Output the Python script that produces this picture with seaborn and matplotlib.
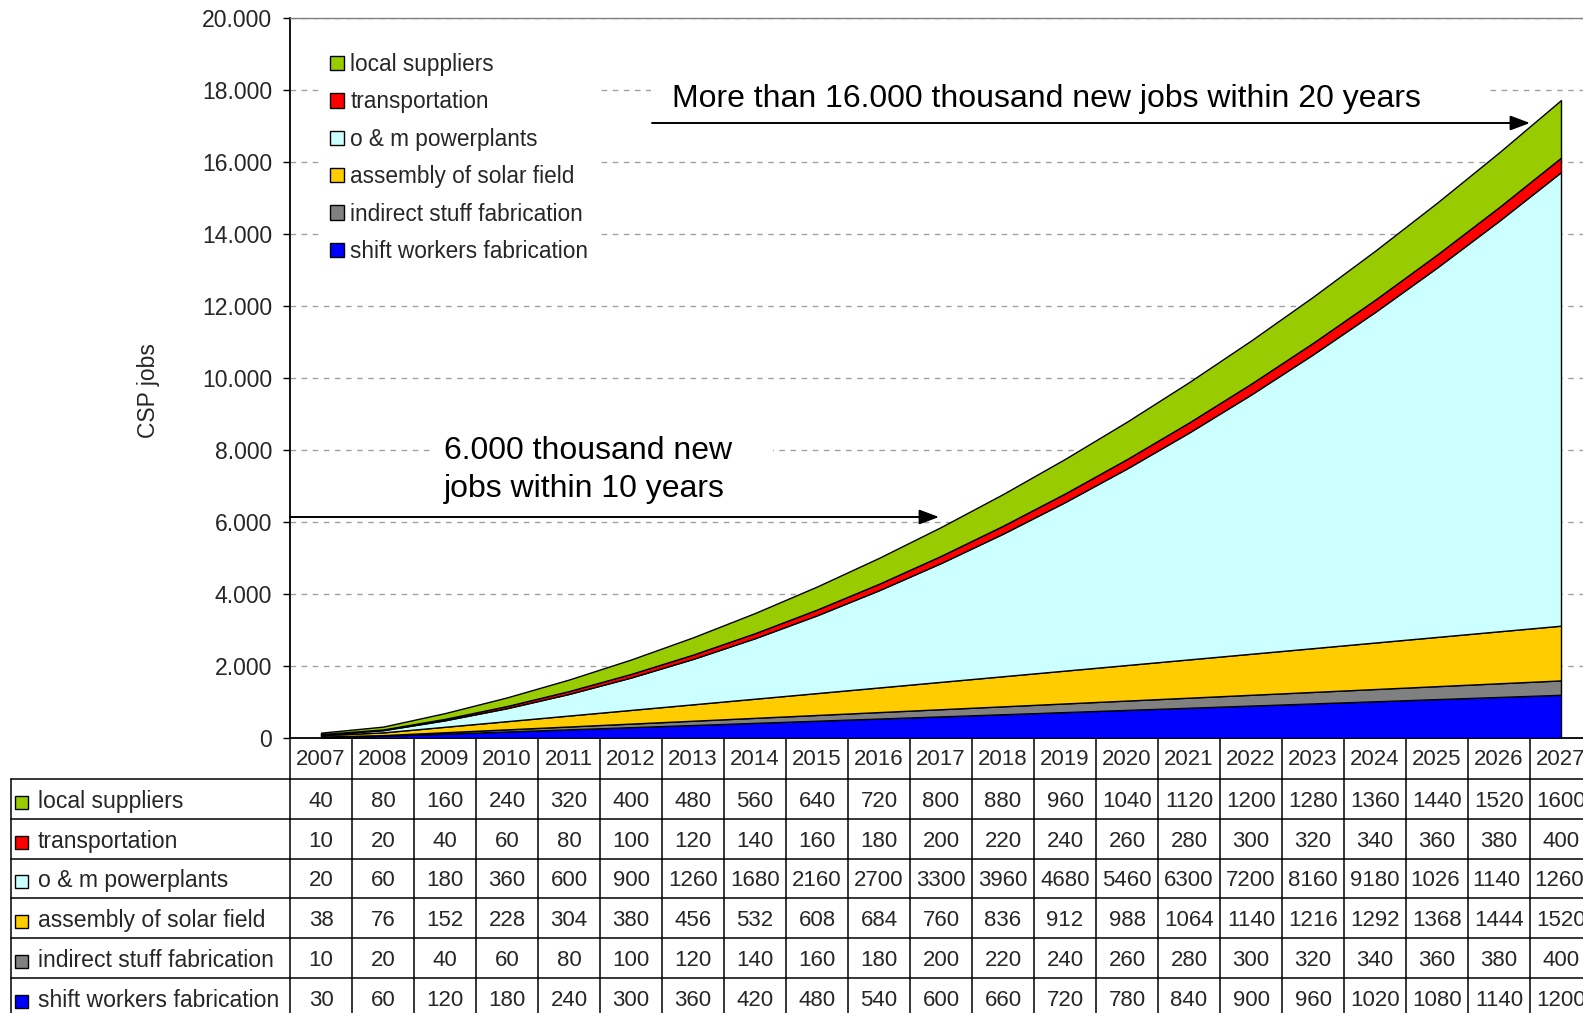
import numpy as np
import matplotlib
matplotlib.use("Agg")
import matplotlib.pyplot as plt
import seaborn as sns
from matplotlib.patches import Rectangle, Patch

# ---- data -------------------------------------------------------------
years = [2007, 2008, 2009, 2010, 2011, 2012, 2013, 2014, 2015, 2016, 2017,
         2018, 2019, 2020, 2021, 2022, 2023, 2024, 2025, 2026, 2027]

shift_workers = [30, 60, 120, 180, 240, 300, 360, 420, 480, 540, 600,
                 660, 720, 780, 840, 900, 960, 1020, 1080, 1140, 1200]
indirect_stuff = [10, 20, 40, 60, 80, 100, 120, 140, 160, 180, 200,
                  220, 240, 260, 280, 300, 320, 340, 360, 380, 400]
assembly_solar = [38, 76, 152, 228, 304, 380, 456, 532, 608, 684, 760,
                  836, 912, 988, 1064, 1140, 1216, 1292, 1368, 1444, 1520]
om_powerplants = [20, 60, 180, 360, 600, 900, 1260, 1680, 2160, 2700, 3300,
                  3960, 4680, 5460, 6300, 7200, 8160, 9180, 10260, 11400, 12600]
transportation = [10, 20, 40, 60, 80, 100, 120, 140, 160, 180, 200,
                  220, 240, 260, 280, 300, 320, 340, 360, 380, 400]
local_suppliers = [40, 80, 160, 240, 320, 400, 480, 560, 640, 720, 800,
                   880, 960, 1040, 1120, 1200, 1280, 1360, 1440, 1520, 1600]

series_names = ["shift workers fabrication", "indirect stuff fabrication",
                "assembly of solar field", "o & m powerplants",
                "transportation", "local suppliers"]
series_values = [shift_workers, indirect_stuff, assembly_solar,
                 om_powerplants, transportation, local_suppliers]
series_colors = ["#0000FF", "#808080", "#FFCC00", "#CCFFFF", "#FF0000", "#99CC00"]

y_ticks = list(range(0, 20001, 2000))

# ---- style ------------------------------------------------------------
sns.set_theme(style="white")
plt.rcParams["font.family"] = ["Liberation Sans", "DejaVu Sans"]

W, H = 1583, 1013
fig = plt.figure(figsize=(W / 100, H / 100), dpi=100)
fig.patch.set_facecolor("white")

# plot area: x from 290 px (left spine) across 21 category columns of 62 px
ncols = len(years)
col_w = 62.0
ax_left, ax_top, ax_bottom = 290, 18, 738
ax = fig.add_axes([ax_left / W, 1 - ax_bottom / H,
                   ncols * col_w / W, (ax_bottom - ax_top) / H])
ax.set_facecolor("white")

x = np.arange(ncols)
ax.stackplot(x, *series_values, colors=series_colors,
             edgecolor="black", linewidth=1.0, zorder=3)

ax.set_xlim(-0.5, ncols - 0.5)
ax.set_ylim(0, 20000)
ax.set_xticks([])
ax.set_yticks(y_ticks)
ax.set_yticklabels([f"{v:,}".replace(",", ".") for v in y_ticks], fontsize=16.6)
ax.tick_params(axis="y", direction="out", length=5, width=1, color="black",
               pad=8, left=True)
ax.yaxis.grid(True, linestyle=(0, (4, 4)), color="#A0A0A0", linewidth=1.0)
ax.set_axisbelow(True)
for s in ["left", "bottom"]:
    ax.spines[s].set_color("black")
    ax.spines[s].set_linewidth(1.3)
ax.spines["top"].set_color("#808080")
ax.spines["top"].set_linewidth(1.0)
ax.spines["right"].set_visible(False)

ax.set_ylabel("CSP jobs", fontsize=16.5, va="center")
ax.yaxis.set_label_coords((149 - ax_left) / (ncols * col_w),
                          (ax_bottom - 391) / (ax_bottom - ax_top))


def px_to_data(px, py):
    """Convert full-figure pixel coords (top-left origin) to data coords."""
    dx = (px - ax_left) / col_w - 0.5
    dy = (ax_bottom - py) / (ax_bottom - ax_top) * 20000
    return dx, dy


# white text boxes
x0, y0 = px_to_data(651, 118)
x1, y1 = px_to_data(1485, 70)
ax.add_patch(Rectangle((x0, y0), x1 - x0, y1 - y0, facecolor="white",
                       edgecolor="none", zorder=1.5))
x0, y0 = px_to_data(432, 508)
x1, y1 = px_to_data(773, 428)
ax.add_patch(Rectangle((x0, y0), x1 - x0, y1 - y0, facecolor="white",
                       edgecolor="none", zorder=1.5))

tx, ty = px_to_data(672, 99)
ax.text(tx, ty, "More than 16.000 thousand new jobs within 20 years",
        fontsize=23, ha="left", va="center", color="black", zorder=6)
tx, ty = px_to_data(444, 470)
ax.text(tx, ty, "6.000 thousand new\njobs within 10 years",
        fontsize=23, ha="left", va="center", color="black", zorder=6,
        linespacing=1.36)

arrow_props = dict(arrowstyle="-|>,head_length=0.8,head_width=0.3",
                   color="black", lw=1.4, mutation_scale=15,
                   shrinkA=0, shrinkB=0)
sx, sy = px_to_data(652, 123)
ex, _ = px_to_data(1530, 123)
ax.annotate("", xy=(ex, sy), xytext=(sx, sy), arrowprops=arrow_props, zorder=6)
sx, sy = px_to_data(290, 517)
ex, _ = px_to_data(939, 517)
ax.annotate("", xy=(ex, sy), xytext=(sx, sy), arrowprops=arrow_props, zorder=6)

# legend (top series first)
handles = [Patch(facecolor=c, edgecolor="black", linewidth=1.0)
           for c in series_colors[::-1]]
leg = ax.legend(handles, series_names[::-1], loc="upper left",
                bbox_to_anchor=((321 - ax_left) / (ncols * col_w),
                                (ax_bottom - 44) / (ax_bottom - ax_top)),
                borderaxespad=0, borderpad=0.4, fontsize=16.3,
                handlelength=0.6, handleheight=0.6, handletextpad=0.3,
                labelspacing=0.635, frameon=True, fancybox=False,
                facecolor="white", edgecolor="none", framealpha=1)
leg.set_zorder(5)

# ---- data table below the plot -----------------------------------------
header_h = 41.0
row_h = 39.8
nrows = len(series_names)
table_h = header_h + nrows * row_h
tax = fig.add_axes([ax_left / W, 1 - (ax_bottom + table_h) / H,
                    ncols * col_w / W, table_h / H])
tax.set_xlim(-0.5, ncols - 0.5)
tax.set_ylim(table_h, 0)          # y in pixels, downward
tax.axis("off")


def col_x(px):
    return (px - ax_left) / col_w - 0.5


label_left = col_x(11)
line_kw = dict(color="black", linewidth=1.1, clip_on=False, zorder=2)
row_edges = [header_h + k * row_h for k in range(nrows + 1)]

for i in range(ncols + 1):
    tax.plot([i - 0.5, i - 0.5], [0, table_h], **line_kw)
tax.plot([label_left, label_left], [header_h, table_h], **line_kw)
for yb in row_edges:
    tax.plot([label_left, ncols - 0.5], [yb, yb], **line_kw)

num_font = 16
label_font = 16.6
text_drop = 2.5   # text sits slightly below the row centre
for i, yr in enumerate(years):
    tax.text(i, header_h / 2 + 1, str(yr), ha="center", va="center",
             fontsize=num_font, clip_on=False)

fig.canvas.draw()
renderer = fig.canvas.get_renderer()

pad = 4.0
for r, (name, vals, col) in enumerate(zip(series_names[::-1],
                                          series_values[::-1],
                                          series_colors[::-1])):
    yc = row_edges[r] + row_h / 2 + text_drop
    tax.add_patch(Rectangle((col_x(15.5), yc + 1 - 6.5), 13 / col_w, 13,
                            facecolor=col, edgecolor="black",
                            linewidth=1.0, clip_on=False))
    tax.text(col_x(38), yc, name, ha="left", va="center",
             fontsize=label_font, clip_on=False)
    for i, v in enumerate(vals):
        s = str(v)
        t = tax.text(i, yc, s, ha="center", va="center", fontsize=num_font,
                     clip_on=False)
        if t.get_window_extent(renderer).width > col_w - 2 * pad:
            # a value wider than its cell shows only the characters that fit
            while len(s) > 1 and t.get_window_extent(renderer).width > col_w - 2 * pad:
                s = s[:-1]
                t.set_text(s)
            t.set_ha("left")
            t.set_x(i - 0.5 + pad / col_w)

fig.savefig("out.png", dpi=100, facecolor="white")
